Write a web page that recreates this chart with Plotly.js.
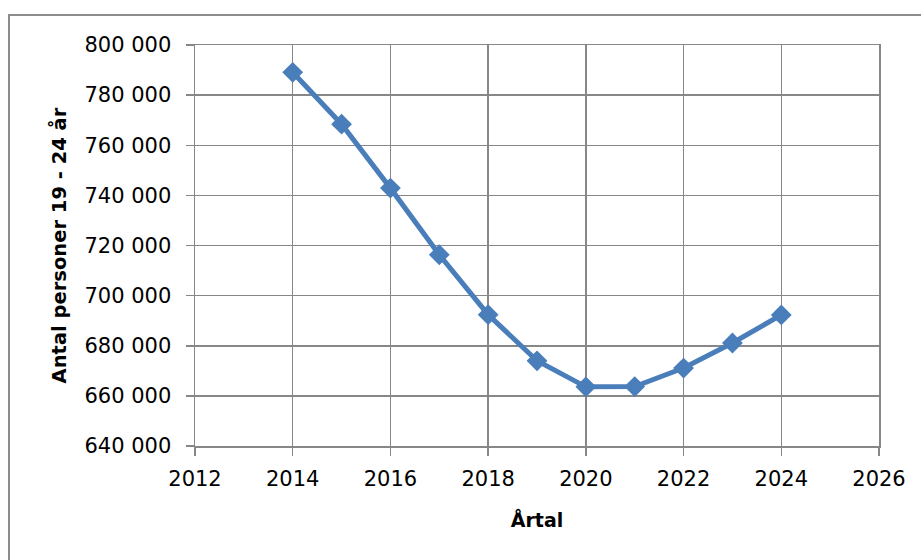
<!DOCTYPE html>
<html>
<head>
<meta charset="utf-8">
<script src="https://cdn.plot.ly/plotly-3.0.1.min.js"></script>
<style>
  html, body { margin: 0; padding: 0; background: #ffffff; }
  #chart { width: 921px; height: 560px; }
</style>
</head>
<body>
<div id="chart"></div>
<script>
// Data
const years = [2014, 2015, 2016, 2017, 2018, 2019, 2020, 2021, 2022, 2023, 2024];
const persons = [789100, 768400, 742900, 716300, 692400, 674000, 663600, 663700, 671100, 681100, 692300];

const xTitle = "Årtal";
const yTitle = "Antal personer 19 - 24 år";

const gridColor = "#878787";

const trace = {
  x: years,
  y: persons,
  type: "scatter",
  mode: "lines+markers",
  line: { color: "#4a7ebb", width: 5 },
  marker: { symbol: "diamond", size: 16, color: "#4a7ebb", line: { width: 0 } },
  hoverinfo: "skip",
  showlegend: false
};

const layout = {
  width: 921,
  height: 560,
  margin: { l: 195, r: 42, t: 45, b: 114, pad: 0 },
  paper_bgcolor: "#ffffff",
  plot_bgcolor: "#ffffff",
  separators: ", ",
  font: { family: "DejaVu Sans", size: 21, color: "#000000" },
  xaxis: {
    range: [2012, 2026],
    dtick: 2,
    tick0: 2012,
    showgrid: true,
    gridcolor: gridColor,
    gridwidth: 1.5,
    showline: true,
    linecolor: gridColor,
    linewidth: 1.5,
    mirror: true,
    ticks: "outside",
    ticklen: 8,
    tickwidth: 1.5,
    tickcolor: gridColor,
    zeroline: false,
    ticklabelstandoff: 5,
    tickfont: { family: "DejaVu Sans", size: 21, color: "#000" },
    title: {
      text: xTitle,
      font: { family: "DejaVu Sans", size: 19, weight: "bold", color: "#000" },
      standoff: 24
    }
  },
  yaxis: {
    range: [640000, 800000],
    dtick: 20000,
    tick0: 640000,
    tickformat: ",d",
    showgrid: true,
    gridcolor: gridColor,
    gridwidth: 1.5,
    showline: true,
    linecolor: gridColor,
    linewidth: 1.5,
    mirror: true,
    ticks: "outside",
    ticklen: 8,
    tickwidth: 1.5,
    tickcolor: gridColor,
    zeroline: false,
    ticklabelstandoff: 10,
    tickfont: { family: "DejaVu Sans", size: 21, color: "#000" },
    title: {
      text: yTitle,
      font: { family: "DejaVu Sans", size: 19.5, weight: "bold", color: "#000" },
      standoff: 12
    }
  },
  shapes: [{
    type: "rect",
    xref: "paper", yref: "paper",
    x0: (9 - 195) / 684, x1: 2,
    y0: -2, y1: (446 - 15) / 401,
    line: { color: "#8c8c8c", width: 2 },
    fillcolor: "rgba(0,0,0,0)",
    layer: "below"
  }]
};

Plotly.newPlot("chart", [trace], layout, { staticPlot: true, displayModeBar: false });
</script>
</body>
</html>
